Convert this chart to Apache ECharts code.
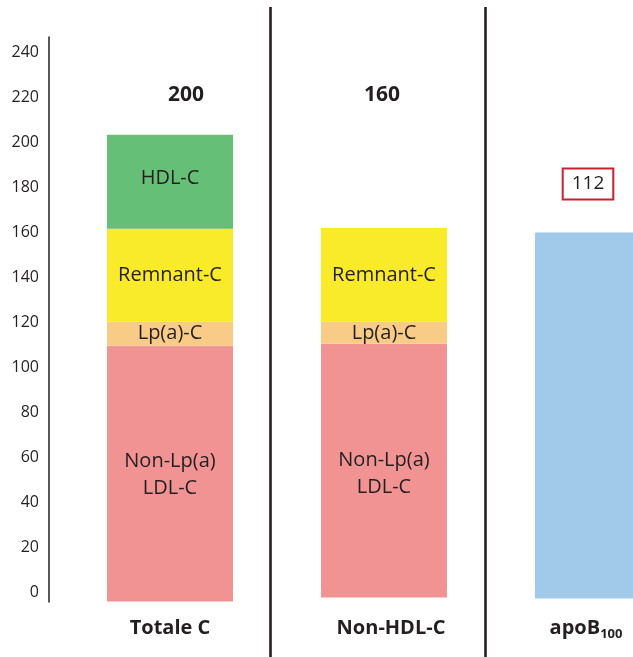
<!DOCTYPE html>
<html><head><meta charset="utf-8">
<script src="https://cdn.jsdelivr.net/npm/echarts@6/dist/echarts.min.js"></script>
<style>html,body{margin:0;padding:0;background:#fff}#c{width:633px;height:657px}</style>
</head><body><div id="c"></div>
<script>
const categories = ['Totale C', 'Non-HDL-C', 'apoB'];
const baseStub = [-4.2, -2.4, -2.9];
const ldl = [109.5, 110.3, null];
const lpa = [10.6, 9.8, null];
const remnant = [41.3, 41.7, null];
const hdl = [41.8, null, null];
const apob = [null, null, 159.8];
const totals = [200, 160, 112];
const yTicks = [0, 20, 40, 60, 80, 100, 120, 140, 160, 180, 200, 220, 240];

const FONT = '"Open Sans", "Noto Sans", sans-serif';
const TXT = '#231f20';
const C_LDL = '#f19392', C_LPA = '#f8cc87', C_REM = '#f9ea2a', C_HDL = '#66bf76', C_APOB = '#a0c9ea';
const stubColors = [C_LDL, C_LDL, C_APOB];

const chart = echarts.init(document.getElementById('c'), null, {renderer: 'canvas'});
const inLabel = (txt, extra) => Object.assign({
  show: true, position: 'inside', formatter: txt, color: TXT,
  fontFamily: FONT, fontSize: 20, lineHeight: 27
}, extra || {});
const common = {type: 'bar', stack: 'a', barWidth: 126, silent: true};

chart.setOption({
  animation: false,
  backgroundColor: '#fff',
  grid: {left: 63, width: 642, top: 37, bottom: 55, outerBoundsMode: 'none', containLabel: false},
  xAxis: {
    type: 'category', data: categories,
    axisLine: {show: false}, axisTick: {show: false},
    axisLabel: {
      interval: 0, hideOverlap: false,
      margin: 13, color: TXT, fontFamily: FONT, fontSize: 20, fontWeight: 'bold',
      formatter: (v, i) => {
        if (i === 1) return '{p1|}{b|' + v + '}';
        if (i === 2) return '{b|apoB}{s|100}{p2|}';
        return '{b|' + v + '}';
      },
      rich: {
        b: {fontFamily: FONT, fontSize: 20, fontWeight: 'bold', color: TXT, lineHeight: 26},
        s: {fontFamily: FONT, fontSize: 13, fontWeight: 'bold', color: TXT, lineHeight: 26, padding: [12, 0, 0, 0]},
        p1: {width: 14},
        p2: {width: 24}
      }
    }
  },
  yAxis: {
    type: 'value', min: -4.4444, max: 246.6667, offset: 14,
    axisLine: {show: true, lineStyle: {color: TXT, width: 1.5}},
    axisTick: {show: false}, splitLine: {show: false},
    axisLabel: {customValues: yTicks, color: TXT, fontFamily: FONT, fontSize: 16, margin: 10}
  },
  series: [
    Object.assign({}, common, {name: 'base', data: baseStub.map((v, i) => ({value: v, itemStyle: {color: stubColors[i], borderColor: stubColors[i], borderWidth: 1.5}}))}),
    Object.assign({}, common, {name: 'Non-Lp(a) LDL-C', data: ldl, itemStyle: {color: C_LDL, borderColor: C_LDL, borderWidth: 1},
      label: inLabel('Non-Lp(a)\nLDL-C', {offset: [0, 6]})}),
    Object.assign({}, common, {name: 'Lp(a)-C', data: lpa, itemStyle: {color: C_LPA}, label: inLabel('Lp(a)-C')}),
    Object.assign({}, common, {name: 'Remnant-C', data: remnant, itemStyle: {color: C_REM}, label: inLabel('Remnant-C')}),
    Object.assign({}, common, {name: 'HDL-C', data: hdl, itemStyle: {color: C_HDL}, label: inLabel('HDL-C', {offset: [0, -4]})}),
    Object.assign({}, common, {name: 'apoB100', data: apob, itemStyle: {color: C_APOB, borderColor: C_APOB, borderWidth: 1}})
  ]
});

// annotations
const totalDx = [16, -2, -10];
const totalY = [95, 95, 184];
const g = [
  {type: 'line', shape: {x1: 270.5, y1: 7, x2: 270.5, y2: 657}, style: {stroke: TXT, lineWidth: 2.6}, silent: true, z: 100},
  {type: 'line', shape: {x1: 485.5, y1: 7, x2: 485.5, y2: 657}, style: {stroke: TXT, lineWidth: 2.6}, silent: true, z: 100}
];
totals.forEach((t, i) => {
  const x = chart.convertToPixel({xAxisIndex: 0}, i) + totalDx[i];
  const boxed = i === 2;
  g.push({
    type: 'text', x: x, y: totalY[i], silent: true,
    style: boxed ? {
      text: String(t), align: 'center', verticalAlign: 'middle', fill: TXT,
      font: '19px ' + FONT, lineHeight: 21, padding: [5, 9, 5, 9],
      borderColor: '#c8202e', borderWidth: 2
    } : {
      text: String(t), align: 'center', verticalAlign: 'middle', fill: TXT,
      font: 'bold 21px ' + FONT
    }
  });
});
chart.setOption({graphic: g});
</script>
</body></html>
